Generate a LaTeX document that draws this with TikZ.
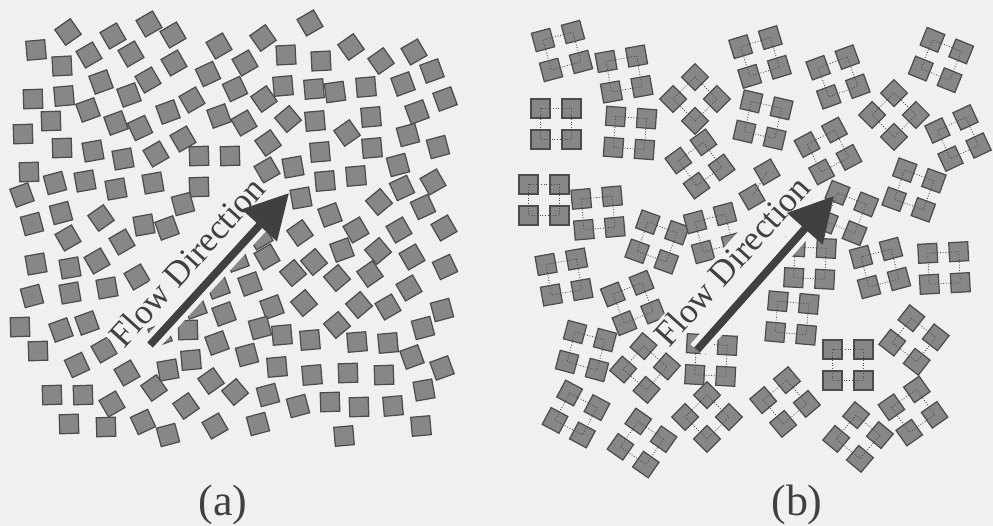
\documentclass[tikz,border=0pt]{standalone}
\usepackage{fontspec}
\setmainfont{Liberation Serif}
\usetikzlibrary{arrows.meta,calc}
\definecolor{paper}{gray}{0.94}
\definecolor{tilegray}{gray}{0.53}
\definecolor{tileedge}{gray}{0.30}
\definecolor{flowgray}{gray}{0.25}

\begin{document}
\begin{tikzpicture}[x=0.02cm, y=-0.02cm,
    tile/.style={fill=tilegray, draw=tileedge, line width=0.7pt},
    link/.style={densely dotted, draw=tileedge, line width=0.5pt},
    flow/.style={-{Triangle[length=25pt, width=26pt]}, line width=4.3pt, draw=flowgray},
    halo/.style={line width=10pt, draw=paper},
    flowtxt/.style={font=\fontsize{20}{23}\selectfont, text=flowgray, fill=paper, inner sep=1.5pt, rotate=48},
    sublabel/.style={font=\fontsize{25}{29}\selectfont, text=flowgray}
]
\fill[paper] (0,0) rectangle (993,526);
\useasboundingbox (0,0) rectangle (993,526);

% (a) single particles
\foreach \x/\y/\r in {36/50/5, 68/32/35, 113/36/30, 149/24/30, 173/35/30, 62/66/3, 89/55/30, 131/54/30,
    174/63/30, 219/46/30, 263/38/35, 310/23/30, 286/55/3, 321/61/3, 351/47/35, 381/61/35, 414/52/30,
    432/71/20, 245/63/30, 208/74/25, 101/82/20, 148/80/30, 33/99/2, 64/96/5, 129/95/20, 235/89/25,
    264/99/35, 283/86/5, 314/89/5, 335/92/8, 366/87/5, 403/84/20, 445/99/20,
    88/110/20, 51/121/2, 116/123/20, 140/128/25, 168/112/20, 192/100/30, 219/116/20, 244/123/30,
    288/119/40, 315/121/5, 371/117/5, 417/112/20,
    23/134/2, 347/133/35, 183/139/30, 268/143/35, 408/135/15,
    62/148/2, 93/151/10, 123/159/10, 156/154/30, 199/156/2, 230/156/2, 320/152/5, 372/148/5, 438/147/15,
    29/172/2, 55/183/15, 85/181/10, 116/189/10, 153/183/10, 199/187/2, 183/204/15, 293/167/10,
    325/181/5, 356/176/5, 398/165/15, 433/182/30, 267/170/30,
    22/195/20, 301/198/10, 330/215/20, 379/202/40, 402/188/25, 423/207/25,
    32/224/15, 61/213/15, 101/218/35, 144/225/10, 167/228/20,
    300/233/35, 356/230/30, 399/230/30, 444/228/30, 260/237/30,
    68/238/30, 122/242/30, 36/264/10, 70/268/10, 97/261/30, 137/277/30,
    267/257/30, 237/260/20, 314/262/40, 342/250/20, 378/251/40, 412/257/30, 445/267/25, 293/273/40,
    337/278/40, 370/274/35, 250/284/20, 218/287/20,
    32/296/15, 70/293/10, 107/288/10,
    224/314/20, 272/307/20, 304/303/40, 359/305/40, 388/307/30, 409/288/30, 442/310/15, 195/307/20,
    20/327/2, 61/330/20, 87/323/20, 188/330/2, 160/335/20,
    260/328/15, 282/335/5, 310/340/5, 337/325/40, 423/328/15,
    38/351/2, 104/350/30, 217/343/20, 357/342/5, 388/343/5,
    77/365/25, 127/373/30, 168/370/10, 191/360/5, 247/355/15, 412/357/20, 442/368/20,
    211/381/35, 235/392/40, 268/395/15, 277/367/5, 312/375/5, 348/373/2, 384/375/2, 424/390/10,
    52/395/2, 83/395/2, 112/404/30, 154/388/35, 186/406/35, 298/406/15, 330/402/2, 359/407/2, 393/406/5,
    69/424/2, 106/427/2, 143/422/25, 168/435/15, 215/426/30, 258/424/15, 344/436/5, 421/426/5}
  \draw[tile, shift={(\x,\y)}, rotate=\r] (-9.5,-9.5) rectangle (9.5,9.5);

% (b) linked groups of four
\foreach \cx/\cy/\r in {562/51/15, 624/74/10, 556/124/0, 630/133/-4, 695/99/45, 760/57/17, 763/120/-13,
    700/164/36, 838/77/20, 941/60/-22, 894/115/45, 958/138/25, 828/151/28, 914/190/-20, 544/200/0,
    598/213/5, 657/242/-20, 714/233/15, 564/277/10, 810/263/-3, 792/318/-5, 880/268/15, 944/268/3,
    633/303/22, 586/351/-15, 645/368/49, 711/360/-3, 848/365/0, 914/340/52, 576/414/-28, 642/443/-35,
    707/417/45, 785/402/40, 913/411/35, 858/437/-40, 846/213/-22} {
  \begin{scope}[shift={(\cx,\cy)}, rotate=\r]
    \foreach \i/\j in {-1/-1, 1/-1, -1/1, 1/1}
      \draw[tile, shift={({15.5*(\i)},{15.5*(\j)})}] (-9.5,-9.5) rectangle (9.5,9.5);
    \draw[link] (-15.5,-15.5) rectangle (15.5,15.5);
  \end{scope}
}
\draw[tile, shift={(767,172)}, rotate=30] (-9.5,-9.5) rectangle (9.5,9.5);
\draw[tile, shift={(752,197)}, rotate=30] (-9.5,-9.5) rectangle (9.5,9.5);
\draw[link] (767,172) -- (752,197);

% flow arrows
\coordinate (tailA) at (150,345);
\coordinate (tipA) at (289,193);
\coordinate (tailB) at (697,350);
\coordinate (tipB) at (834,196);
\draw[halo] (tailA) -- ($(tailA)!0.8!(tipA)$);
\draw[halo] (tailB) -- ($(tailB)!0.8!(tipB)$);
\node[flowtxt] (txtA) at (187,262) {Flow Direction};
\node[flowtxt] (txtB) at (732,261) {Flow Direction};
\draw[flow] (tailA) -- (tipA);
\draw[flow] (tailB) -- (tipB);

\node[sublabel] (labA) at (223,505) {(a)};
\node[sublabel] (labB) at (797,505) {(b)};
\end{tikzpicture}
\end{document}
